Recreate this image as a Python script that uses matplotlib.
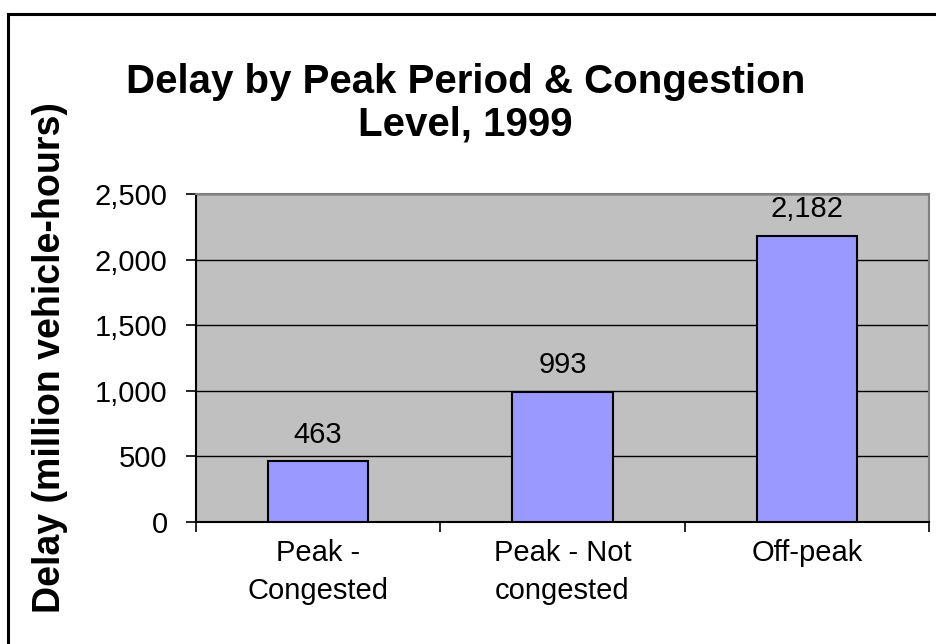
import matplotlib
matplotlib.use("Agg")
import matplotlib.pyplot as plt
from matplotlib.lines import Line2D
from matplotlib.ticker import FuncFormatter, FixedLocator

categories = ["Peak -\nCongested", "Peak - Not\ncongested", "Off-peak"]
delay = [463, 993, 2182]
yticks = [0, 500, 1000, 1500, 2000, 2500]

plt.rcParams['font.family'] = ['Liberation Sans', 'DejaVu Sans']

W, H = 936, 644
fig = plt.figure(figsize=(W / 100, H / 100), dpi=100)
fig.patch.set_facecolor("white")

# chart frame: only the left and top edges fall inside the image
fig.add_artist(Line2D([8 / W, 8 / W], [0, 1 - 14 / H], transform=fig.transFigure,
                      color="black", linewidth=2.2))
fig.add_artist(Line2D([8 / W, 1], [1 - 14 / H, 1 - 14 / H], transform=fig.transFigure,
                      color="black", linewidth=2.2))

ax = fig.add_axes([196 / W, 1 - 522 / H, 733 / W, 328 / H])
ax.set_facecolor("#C0C0C0")

x = range(len(categories))
ax.bar(x, delay, width=0.41, color="#9999FF", edgecolor="black", linewidth=1.5, zorder=3)
for xi, v in zip(x, delay):
    ax.annotate(f"{v:,}", (xi, v), xytext=(0, 9), textcoords="offset points",
                ha="center", va="bottom", fontsize=21)

ax.set_xlim(-0.5, 2.5)
ax.set_ylim(0, 2500)
ax.set_yticks(yticks)
ax.yaxis.set_major_formatter(FuncFormatter(lambda v, p: f"{int(v):,}"))
ax.grid(axis="y", color="black", linewidth=1, zorder=1)
ax.set_axisbelow(True)

# category boundaries get the tick marks, names sit between them
ax.xaxis.set_major_locator(FixedLocator([-0.5, 0.5, 1.5, 2.5]))
ax.xaxis.set_major_formatter(FuncFormatter(lambda v, p: ""))
ax.set_xticks(list(x), minor=True)
ax.set_xticklabels(categories, minor=True, fontsize=21, linespacing=1.45)
ax.tick_params(axis="x", which="minor", length=0, pad=12)
ax.tick_params(axis="x", which="major", length=7.5, width=1.2)
ax.tick_params(axis="y", length=7.5, width=1.2, labelsize=21, pad=13)

for s in ["top", "right"]:
    ax.spines[s].set_color("#808080")
    ax.spines[s].set_linewidth(1.5)
for s in ["left", "bottom"]:
    ax.spines[s].set_color("black")
    ax.spines[s].set_linewidth(1.5)

ax.set_ylabel("Delay (million vehicle-hours)", fontsize=27, fontweight="bold")
ax.yaxis.set_label_coords((68 - 196) / 733, 0.5)

fig.text(0.497, 1 - 103 / H, "Delay by Peak Period & Congestion\nLevel, 1999",
         ha="center", va="center", fontsize=29, fontweight="bold", linespacing=1.15)

fig.savefig("out.png", dpi=100)
